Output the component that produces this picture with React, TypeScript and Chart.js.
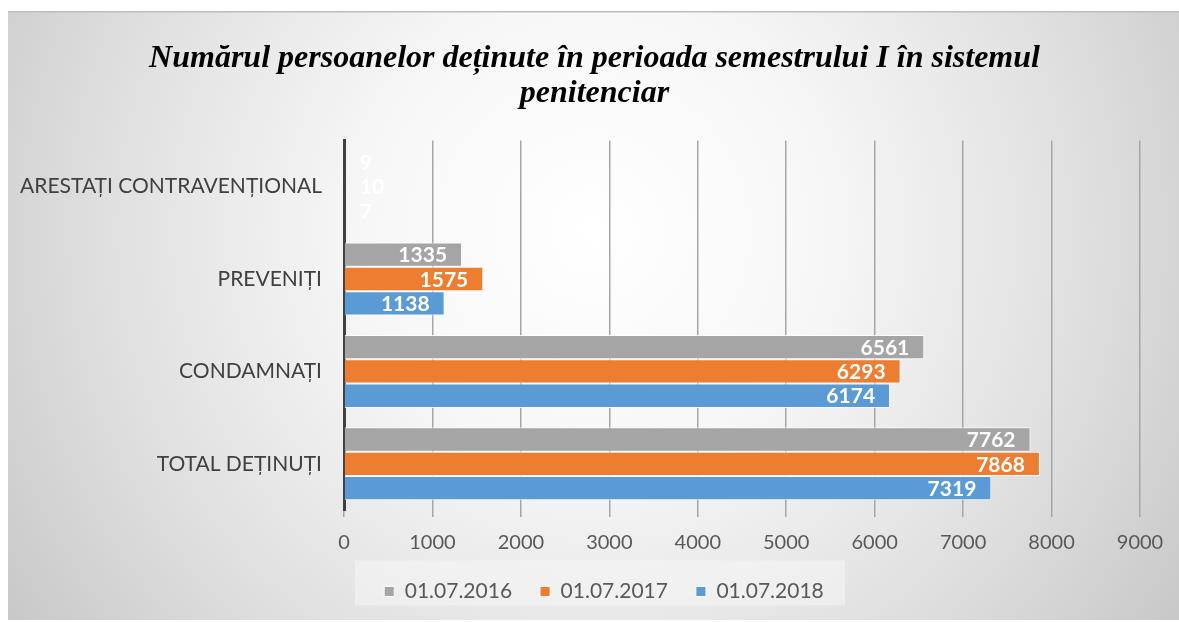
import React, { useEffect, useRef } from 'react';
import { Chart, registerables } from 'chart.js';
Chart.register(...registerables);

const categories = ['ARESTAȚI CONTRAVENȚIONAL', 'PREVENIȚI', 'CONDAMNAȚI', 'TOTAL DEȚINUȚI'];
const seriesNames = ['01.07.2016', '01.07.2017', '01.07.2018'];
const values2016 = [9, 1335, 6561, 7762];
const values2017 = [10, 1575, 6293, 7868];
const values2018 = [7, 1138, 6174, 7319];
const seriesColors = ['#a5a5a5', '#ed7d31', '#5b9bd5'];
const xMin = 0;
const xMax = 9000;
const xStep = 1000;
const titleLines = ['Numărul persoanelor deținute în perioada semestrului I în sistemul', 'penitenciar'];

const bgPlugin = {
  id: 'bgPlugin',
  afterLayout(chart: any) {
    if (chart.titleBlock) {
      chart.titleBlock.left = 0;
      chart.titleBlock.right = chart.width + 2;
    }
    const lg = chart.legend;
    if (lg) {
      lg.left += 30;
      lg.right += 30;
    }
  },
  beforeDraw(chart: any) {
    const { ctx, width, height } = chart;
    ctx.save();
    const g = ctx.createRadialGradient(width * 0.5, height * 0.36, 0, width * 0.5, height * 0.36, 760);
    g.addColorStop(0, '#ffffff');
    g.addColorStop(0.3, '#f7f7f7');
    g.addColorStop(0.65, '#dfdfdf');
    g.addColorStop(1, '#c2c2c2');
    ctx.fillStyle = g;
    ctx.fillRect(0, 0, width, height);
    ctx.fillStyle = '#bdbdbd';
    ctx.fillRect(0, 0, width, 1.5);
    const lg = chart.legend;
    if (lg) {
      const cx = (lg.left + lg.right) / 2 - 4;
      const cy = (lg.top + lg.bottom) / 2;
      ctx.fillStyle = 'rgba(245,245,245,0.55)';
      ctx.fillRect(cx - 245, cy - 22, 490, 45);
    }
    ctx.restore();
  },
};

const labelPlugin = {
  id: 'labelPlugin',
  afterDatasetsDraw(chart: any) {
    const { ctx } = chart;
    ctx.save();
    ctx.font = 'bold 21px Lato';
    ctx.fillStyle = '#ffffff';
    ctx.textBaseline = 'middle';
    chart.data.datasets.forEach((ds: any, di: number) => {
      const meta = chart.getDatasetMeta(di);
      meta.data.forEach((el: any, i: number) => {
        const txt = String(ds.data[i]);
        const w = ctx.measureText(txt).width;
        const end = el.x;
        const base = el.base;
        if (end - 15 - w < base + 8) {
          ctx.textAlign = 'left';
          ctx.fillText(txt, base + 15, el.y + 1);
        } else {
          ctx.textAlign = 'right';
          ctx.fillText(txt, end - 15, el.y + 1);
        }
      });
    });
    ctx.restore();
  },
};

export default function App() {
  const ref = useRef<HTMLCanvasElement>(null);
  useEffect(() => {
    document.body.style.margin = '0';
    const allSeries = [values2016, values2017, values2018];
    const chart = new Chart(ref.current!, {
      type: 'bar',
      data: {
        labels: categories,
        datasets: allSeries.map((vals, i) => ({
          label: seriesNames[i],
          data: vals,
          backgroundColor: seriesColors[i],
          borderColor: 'rgba(255,255,255,0.85)',
          borderWidth: 1,
          categoryPercentage: 0.79,
          barPercentage: 1,
        })),
      },
      options: {
        indexAxis: 'y',
        animation: false,
        responsive: false,
        layout: { padding: { left: 0, right: 39, top: 0, bottom: 8 } },
        plugins: {
          title: {
            display: true,
            text: titleLines,
            color: '#000000',
            font: { family: 'Liberation Serif', size: 32, weight: 'bold', style: 'italic', lineHeight: 1.1 },
            padding: { top: 30, bottom: 29 },
          },
          legend: {
            position: 'bottom',
            labels: {
              boxWidth: 10,
              boxHeight: 10,
              color: '#595959',
              font: { family: 'Lato', size: 21 },
              padding: 28,
            },
          },
          tooltip: { enabled: false },
        },
        scales: {
          x: {
            min: xMin,
            max: xMax,
            ticks: {
              stepSize: xStep,
              color: '#595959',
              font: { family: 'Lato', size: 20 },
              padding: 14,
              callback: (v: any) => String(v),
            },
            grid: { color: '#a6a6a6', lineWidth: 1.5, tickLength: 7 },
            border: { display: false },
            afterFit(scale: any) { scale.height -= 16; },
          },
          y: {
            ticks: { color: '#404040', font: { family: 'Lato', size: 21 }, padding: 14 },
            grid: { display: false },
            border: { display: true, color: '#404040', width: 3 },
            afterFit(scale: any) { scale.width = 336; },
          },
        },
      },
      plugins: [bgPlugin, labelPlugin],
    });
    return () => chart.destroy();
  }, []);
  return (
    <div style={{ paddingLeft: 8, paddingTop: 11 }}>
      <canvas ref={ref} width={1171} height={609} style={{ display: 'block' }} />
    </div>
  );
}
